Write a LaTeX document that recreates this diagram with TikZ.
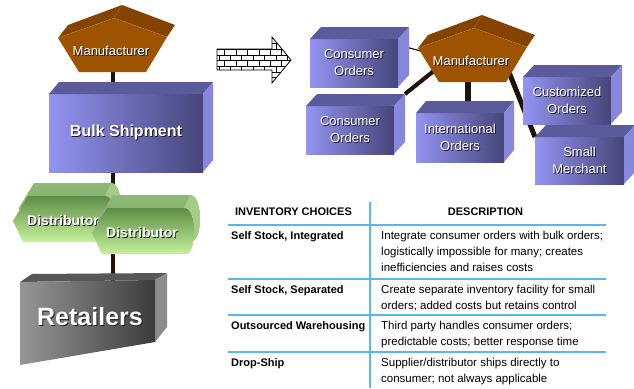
\documentclass[tikz,border=0pt]{standalone}
\usepackage{fontspec}
\setmainfont{Liberation Sans}
\usetikzlibrary{patterns,calc}
\pgfdeclarelayer{bg}
\pgfsetlayers{bg,main}

\definecolor{boxtop}{HTML}{5B5B9B}
\definecolor{boxside}{HTML}{8787DC}
\definecolor{boxlight}{HTML}{9494F2}
\definecolor{boxdark}{HTML}{45457A}
\definecolor{mfrfront}{HTML}{9E5300}
\definecolor{mfrtop}{HTML}{844400}
\definecolor{mfredge}{HTML}{D39A5E}
\definecolor{linkc}{HTML}{22100A}
\definecolor{rulec}{HTML}{55B8EE}
\definecolor{greentop}{HTML}{7FA865}
\definecolor{greentoplight}{HTML}{8DB876}
\definecolor{greenfront}{HTML}{5E8C46}
\definecolor{greenlight}{HTML}{C6F29C}
\definecolor{greencap}{HTML}{A4CC86}
\definecolor{graytop}{HTML}{575757}
\definecolor{grayside}{HTML}{8C8C8C}
\definecolor{graylight}{HTML}{969696}
\definecolor{graydark}{HTML}{3C3C3C}
\definecolor{shadowc}{HTML}{1A1A26}

% white label with a small dark drop shadow
\newcommand\shd[1]{\leavevmode\rlap{\kern0.9pt\raisebox{-0.9pt}{\textcolor{shadowc}{#1}}}#1}

% top and right faces of a box whose front face is the node #1
\newcommand\boxfaces[3]{%
  \fill[boxtop] (#1.north west) -- ++(#2,-#3) -- ([shift={(#2,-#3)}]#1.north east) -- (#1.north east) -- cycle;
  \fill[boxside] (#1.north east) -- ++(#2,-#3) -- ([shift={(#2,-#3)}]#1.south east) -- (#1.south east) -- cycle;}

% pentagonal manufacturer block
\newcommand\mfrblock{%
  \fill[mfrtop] (58,38) -- (68,25) -- (122,5) -- (175,25) -- (167,37) -- (114,18) -- cycle;
  \fill[mfrfront] (58,38) -- (114,18) -- (167,37) -- (146,72) -- (79,72) -- cycle;
  \draw[mfredge, line width=0.4pt, densely dotted] (58,38) -- (114,18) -- (167,37) (114,18) -- (122,5);}

% distributor prism, origin at the left tip of its front face
\newcommand\distblock{%
  \shade[top color=greentoplight, bottom color=greentop] (6,-13) -- (21,-38) -- (98,-38) .. controls (105,-38) and (108,-25) .. (108,-15)
     .. controls (108,-3) and (105,8) .. (100,8) -- (14,8) -- cycle;
  \fill[greencap] (92,-25) .. controls (99,-25) and (102,-12) .. (102,-2)
     .. controls (102,10) and (99,21) .. (94,21) -- (100,8)
     .. controls (105,8) and (108,-3) .. (108,-15)
     .. controls (108,-25) and (105,-38) .. (98,-38) -- cycle;
  \shade[top color=greenfront, bottom color=greenlight] (0,0) -- (15,-25) -- (92,-25)
     .. controls (99,-25) and (102,-12) .. (102,-2)
     .. controls (102,10) and (99,21) .. (94,21) -- (10,21) -- cycle;}

\tikzset{
  pbox/.style={rectangle, inner sep=0pt, outer sep=0pt, left color=boxlight, right color=boxdark,
    text=white, align=center, font=\fontsize{13}{17}\selectfont},
  lbl/.style={text=white, inner sep=1pt, align=center},
  stem/.style={draw=linkc, line width=4pt},
  thinlink/.style={draw=linkc, line width=1.2pt},
  rulel/.style={draw=rulec, line width=2pt},
  cellhead/.style={font=\bfseries\fontsize{11}{16}\selectfont, inner sep=0pt},
  cellkey/.style={font=\bfseries\fontsize{11}{16}\selectfont, anchor=north west, inner sep=0pt, align=left},
  celltxt/.style={font=\fontsize{11.5}{16}\selectfont, anchor=north west, inner sep=0pt, align=left},
}

\begin{document}
\begin{tikzpicture}[x=1pt,y=-1pt]
\useasboundingbox (0,0) rectangle (634,388);

% ---------- left column: bulk channel ----------
\mfrblock
\node[lbl, font=\fontsize{13}{16}\selectfont] (mfrL) at (111,51) {\shd{Manufacturer}};

\node[pbox, minimum width=154pt, minimum height=78pt, font=\bfseries\fontsize{16}{19}\selectfont]
  (bulk) at (126,133) {\shd{Bulk Shipment}};
\boxfaces{bulk}{10}{12}

\begin{scope}[shift={(13,221)}] \distblock \end{scope}
\node[lbl, font=\bfseries\fontsize{14}{16}\selectfont] (dist1) at (63,221) {\shd{Distributor}};
\begin{scope}[shift={(92,233)}] \distblock \end{scope}
\node[lbl, font=\bfseries\fontsize{14}{16}\selectfont] (dist2) at (142,233) {\shd{Distributor}};

\fill[graytop] (20,282) -- (32,274) -- (167,273) -- (155,280) -- cycle;
\fill[grayside] (155,280) -- (167,273) -- (167,327) -- (155,342) -- cycle;
\shade[left color=graylight, right color=graydark] (20,282) -- (155,280) -- (155,342) -- (20,365) -- cycle;
\node[lbl, font=\bfseries\fontsize{25}{28}\selectfont] (retail) at (90,317) {\shd{Retailers}};

% ---------- block arrow ----------
\path[draw=black, line width=0.8pt, fill=white, postaction={pattern=bricks}]
  (217,49) -- (272,49) -- (272,37) -- (291,60) -- (272,83) -- (272,70) -- (217,70) -- cycle;

% ---------- right group: direct orders ----------
\begin{scope}[shift={(360,10)}] \mfrblock \end{scope}
\node[lbl, font=\fontsize{13}{16}\selectfont] (mfrR) at (471,61) {\shd{Manufacturer}};

\node[pbox, minimum width=88pt, minimum height=48pt] (cons1) at (354,63) {\shd{Consumer}\\\shd{Orders}};
\boxfaces{cons1}{11}{12}
\node[pbox, minimum width=88pt, minimum height=48pt] (cons2) at (350,130) {\shd{Consumer}\\\shd{Orders}};
\boxfaces{cons2}{11}{12}
\node[pbox, minimum width=88pt, minimum height=49pt] (intl) at (460,137.5) {\shd{International}\\\shd{Orders}};
\boxfaces{intl}{10}{12}
\node[pbox, minimum width=88pt, minimum height=47pt] (custom) at (567,100.5) {\shd{Customized}\\\shd{Orders}};
\boxfaces{custom}{11}{12}
\node[pbox, minimum width=89pt, minimum height=47pt] (small) at (579.5,160.5) {\shd{Small}\\\shd{Merchant}};
\boxfaces{small}{11}{12}

% ---------- inventory table ----------
\draw[rulel] (370,202) -- (370,388);
\foreach \yy in {225,279,315,352} \draw[rulel] (228,\yy) -- (606,\yy);

\node[cellhead] (hchoice) at (293.5,212) {INVENTORY CHOICES};
\node[cellhead] (hdesc) at (485.5,212) {DESCRIPTION};

\begin{scope}
\clip (220,220) rectangle (369,388);
\node[cellkey] (k1) at (231,227.8) {\strut Self Stock, Integrated};
\node[cellkey] (k2) at (231,281.8) {\strut Self Stock, Separated};
\node[cellkey] (k3) at (231,317.8) {\strut Outsourced Warehousing};
\node[cellkey] (k4) at (231,354.8) {\strut Drop-Ship};
\end{scope}

\node[celltxt] (d1) at (381,227.8) {\strut Integrate consumer orders with bulk orders;\\logistically impossible for many; creates\\inefficiencies and raises costs};
\node[celltxt] (d2) at (381,281.8) {\strut Create separate inventory facility for small\\orders; added costs but retains control};
\node[celltxt] (d3) at (381,317.8) {\strut Third party handles consumer orders;\\predictable costs; better response time};
\node[celltxt] (d4) at (381,354.8) {\strut Supplier/distributor ships directly to\\consumer; not always applicable};

% ---------- page ground and connectors, behind the blocks ----------
\begin{pgfonlayer}{bg}
\fill[white] (0,0) rectangle (634,388);
\draw[stem] ([xshift=1.5pt]mfrL.south) -- ([xshift=1.5pt]mfrL.south |- retail.north);
\draw[thinlink] ([shift={(0,-18)}]cons1.east) -- ([shift={(-3,-8)}]mfrR.west);
\draw[linkc, line width=4pt] ([shift={(11,-12)}]cons2.north east) -- ([shift={(11,3)}]mfrR.west);
\draw[linkc, line width=6pt] ([xshift=-3pt]mfrR.south) -- ([xshift=-3pt]mfrR.south |- intl.north);
\draw[linkc, line width=5pt] ([shift={(-6,0)}]mfrR.east) -- (small.north west);
\end{pgfonlayer}
\end{tikzpicture}
\end{document}
